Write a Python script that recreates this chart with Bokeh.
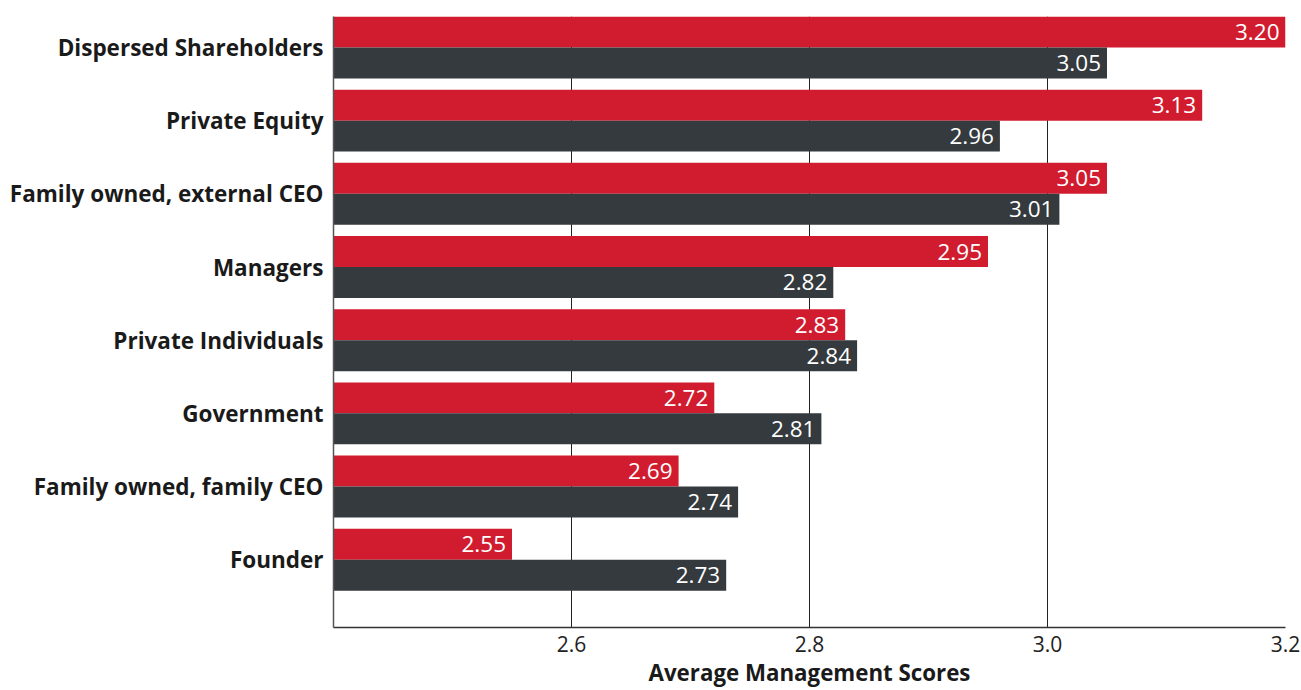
from bokeh.plotting import figure
from bokeh.models import ColumnDataSource, Range1d, FixedTicker, PrintfTickFormatter
from bokeh.core.properties import value
from bokeh.embed import file_html
from bokeh.resources import INLINE

# Ownership categories, listed top to bottom
categories = [
    "Dispersed Shareholders",
    "Private Equity",
    "Family owned, external CEO",
    "Managers",
    "Private Individuals",
    "Government",
    "Family owned, family CEO",
    "Founder",
]
# Average management scores for the two series in each group
red_scores = [3.20, 3.13, 3.05, 2.95, 2.83, 2.72, 2.69, 2.55]
dark_scores = [3.05, 2.96, 3.01, 2.82, 2.84, 2.81, 2.74, 2.73]
x_ticks = [2.6, 2.8, 3.0, 3.2]

X_START, X_END = 2.4, 3.2
RED = "#D11C2F"
DARK = "#343A3E"
FONT = "Open Sans"
BAR_H = 0.423  # height of one bar in category units

n = len(categories)
pos = [n - 1 - i for i in range(n)]  # top category gets the highest slot

red_src = ColumnDataSource(dict(
    y=[p + BAR_H / 2 for p in pos],
    right=red_scores,
    left=[X_START] * n,
    label=[f"{v:.2f}" for v in red_scores],
))
dark_src = ColumnDataSource(dict(
    y=[p - BAR_H / 2 for p in pos],
    right=dark_scores,
    left=[X_START] * n,
    label=[f"{v:.2f}" for v in dark_scores],
))

p = figure(
    width=1301, height=690,
    x_range=Range1d(X_START, X_END),
    y_range=Range1d(-0.926, (n - 1) + BAR_H),
    output_backend="svg", toolbar_location=None,
    min_border_left=333, min_border_right=16,
    min_border_top=16, min_border_bottom=50,
)
p.outline_line_color = None
p.background_fill_color = "white"
p.border_fill_color = "white"

p.hbar(y="y", left="left", right="right", height=BAR_H, source=red_src,
       fill_color=RED, line_color=None)
p.hbar(y="y", left="left", right="right", height=BAR_H, source=dark_src,
       fill_color=DARK, line_color=None)

for src in (red_src, dark_src):
    p.text(x="right", y="y", text="label", source=src,
           text_font=value(FONT), text_font_size="22.5px", text_color="white",
           text_align="right", text_baseline="middle", x_offset=-6)

# x axis
p.xaxis.ticker = FixedTicker(ticks=x_ticks)
p.xaxis.formatter = PrintfTickFormatter(format="%.1f")
p.xaxis.axis_label = "Average Management Scores"
p.xaxis.axis_label_text_font = FONT
p.xaxis.axis_label_text_font_style = "bold"
p.xaxis.axis_label_text_font_size = "22.3px"
p.xaxis.axis_label_text_color = "#1a1a1a"
p.xaxis.axis_label_standoff = 2
p.xaxis.major_label_text_font = FONT
p.xaxis.major_label_text_font_size = "21px"
p.xaxis.major_label_text_color = "#222222"
p.xaxis.major_label_standoff = 8
p.xaxis.major_tick_out = 0
p.xaxis.major_tick_in = 0
p.xaxis.minor_tick_out = 0
p.xaxis.minor_tick_in = 0
p.xaxis.axis_line_color = "#333333"
p.xaxis.axis_line_width = 1.5

# y axis with category names
p.yaxis.ticker = FixedTicker(ticks=pos)
p.yaxis.major_label_overrides = {pp: c for pp, c in zip(pos, categories)}
p.yaxis.major_label_text_font = FONT
p.yaxis.major_label_text_font_style = "bold"
p.yaxis.major_label_text_font_size = "22.5px"
p.yaxis.major_label_text_color = "#1a1a1a"
p.yaxis.major_label_standoff = 10
p.yaxis.major_tick_out = 0
p.yaxis.major_tick_in = 0
p.yaxis.minor_tick_out = 0
p.yaxis.minor_tick_in = 0
p.yaxis.axis_line_color = "#555555"
p.yaxis.axis_line_width = 1.5

p.ygrid.grid_line_color = None
p.xgrid.ticker = FixedTicker(ticks=x_ticks)
p.xgrid.grid_line_color = "#222222"
p.xgrid.grid_line_width = 1

open("out.html", "w").write(file_html(p, INLINE))
